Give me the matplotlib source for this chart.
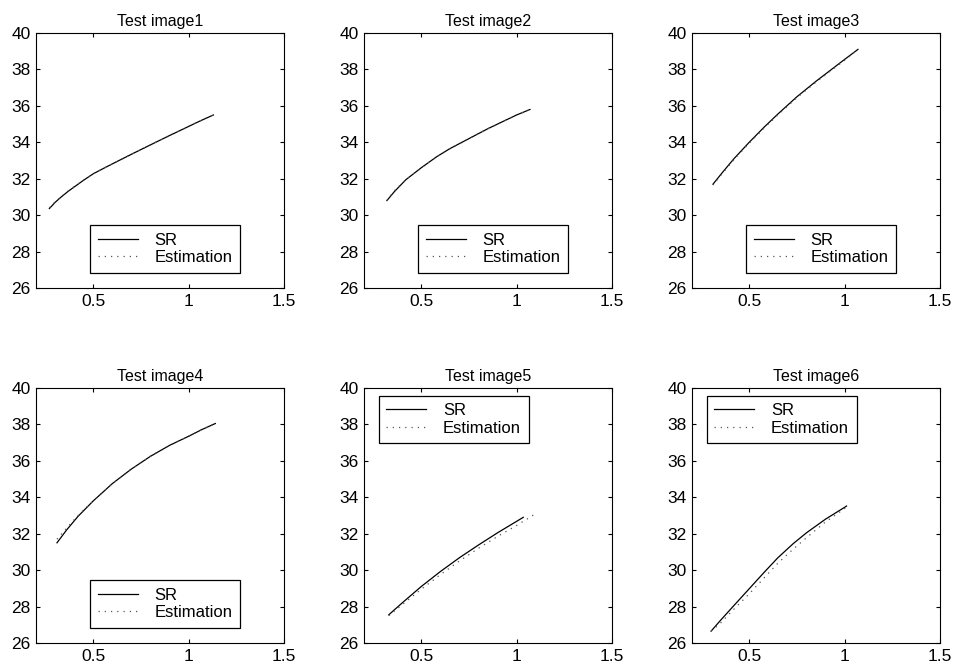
import matplotlib.pyplot as plt

plt.rcParams['font.family'] = ['Liberation Sans', 'DejaVu Sans']

titles = ["Test image1", "Test image2", "Test image3",
          "Test image4", "Test image5", "Test image6"]

# SR curves (x, y) per panel
sr_x = [
    [0.27, 0.30, 0.33, 0.37, 0.41, 0.45, 0.50, 0.56, 0.62, 0.70, 0.75, 0.82, 0.89, 0.95, 1.00, 1.06, 1.13],
    [0.32, 0.36, 0.42, 0.50, 0.58, 0.65, 0.75, 0.85, 0.95, 1.00, 1.07],
    [0.31, 0.36, 0.42, 0.50, 0.58, 0.65, 0.75, 0.85, 0.95, 1.00, 1.07],
    [0.31, 0.36, 0.42, 0.50, 0.60, 0.70, 0.80, 0.90, 1.00, 1.07, 1.14],
    [0.33, 0.40, 0.50, 0.60, 0.70, 0.80, 0.90, 1.00, 1.035],
    [0.30, 0.35, 0.40, 0.50, 0.58, 0.65, 0.73, 0.80, 0.90, 1.00, 1.01],
]
sr_y = [
    [30.36, 30.7, 30.98, 31.32, 31.62, 31.92, 32.27, 32.6, 32.92, 33.34, 33.6, 33.96, 34.32, 34.62, 34.87, 35.17, 35.5],
    [30.8, 31.3, 31.95, 32.6, 33.2, 33.65, 34.2, 34.75, 35.25, 35.5, 35.8],
    [31.7, 32.35, 33.1, 34.0, 34.85, 35.55, 36.5, 37.35, 38.15, 38.55, 39.1],
    [31.5, 32.2, 32.95, 33.8, 34.75, 35.55, 36.25, 36.85, 37.35, 37.72, 38.05],
    [27.55, 28.2, 29.1, 29.92, 30.68, 31.38, 32.05, 32.68, 32.9],
    [26.65, 27.25, 27.83, 28.98, 29.9, 30.68, 31.45, 32.05, 32.8, 33.45, 33.52],
]

# Estimation curves
est_x = [
    [0.27, 0.30, 0.33, 0.37, 0.41, 0.45, 0.50, 0.56, 0.62, 0.70, 0.75, 0.82, 0.89, 0.95, 1.00, 1.06, 1.13],
    [0.32, 0.36, 0.42, 0.50, 0.58, 0.65, 0.75, 0.85, 0.95, 1.00, 1.07],
    [0.31, 0.36, 0.42, 0.50, 0.58, 0.65, 0.75, 0.85, 0.95, 1.00, 1.07],
    [0.31, 0.36, 0.42, 0.50, 0.60, 0.70, 0.80, 0.90, 1.00, 1.07, 1.14],
    [0.33, 0.40, 0.50, 0.60, 0.70, 0.80, 0.90, 1.00, 1.035, 1.10],
    [0.30, 0.35, 0.40, 0.50, 0.58, 0.65, 0.73, 0.80, 0.90, 1.00, 1.01],
]
est_y = [
    [30.4, 30.72, 31.0, 31.34, 31.64, 31.93, 32.27, 32.6, 32.92, 33.34, 33.6, 33.96, 34.32, 34.62, 34.87, 35.17, 35.5],
    [30.8, 31.35, 31.95, 32.6, 33.2, 33.65, 34.2, 34.75, 35.25, 35.5, 35.8],
    [31.65, 32.3, 33.05, 33.95, 34.8, 35.5, 36.45, 37.3, 38.1, 38.5, 39.1],
    [31.7, 32.3, 33.0, 33.8, 34.75, 35.55, 36.25, 36.85, 37.35, 37.72, 38.05],
    [27.5, 28.1, 28.95, 29.75, 30.5, 31.2, 31.85, 32.45, 32.68, 33.1],
    [26.65, 27.1, 27.65, 28.7, 29.6, 30.38, 31.15, 31.78, 32.65, 33.38, 33.52],
]

legend_top = [False, False, False, False, True, True]

xticks = [0.5, 1, 1.5]
xticklabels = ["0.5", "1", "1.5"]
yticks = [26, 28, 30, 32, 34, 36, 38, 40]

fig = plt.figure(figsize=(9.57, 6.7), dpi=100)
lefts = [36, 364, 692]
bottoms = [670 - 288, 670 - 643]
W, H = 957, 670

for i in range(6):
    r, c = divmod(i, 3)
    ax = fig.add_axes([lefts[c] / W, bottoms[r] / H, 248 / W, 255 / H])
    ax.plot(sr_x[i], sr_y[i], color="black", lw=0.9, label="SR")
    ax.plot(est_x[i], est_y[i], color="#555555", lw=0.9, linestyle=(0, (1, 4)),
            label="Estimation")
    ax.set_xlim(0.2, 1.5)
    ax.set_ylim(26, 40)
    ax.set_xticks(xticks)
    ax.set_xticklabels(xticklabels)
    ax.set_yticks(yticks)
    ax.tick_params(direction="in", top=True, right=True, length=3,
                   labelsize=12.5, pad=4)
    ax.set_title(titles[i], fontsize=11.5, pad=5)
    leg_kw = dict(fontsize=12, handlelength=2.4, handletextpad=1.0,
                  borderpad=0.45, labelspacing=0.15, borderaxespad=0)
    if legend_top[i]:
        leg = ax.legend(loc="upper left", bbox_to_anchor=(0.06, 0.97), **leg_kw)
    else:
        leg = ax.legend(loc="lower center", bbox_to_anchor=(0.52, 0.06), **leg_kw)
    leg.get_frame().set_edgecolor("black")
    leg.get_frame().set_linewidth(0.9)
    leg.get_frame().set_boxstyle("square", pad=0)
    leg.get_frame().set_alpha(1)

fig.savefig("out.png", dpi=100)
